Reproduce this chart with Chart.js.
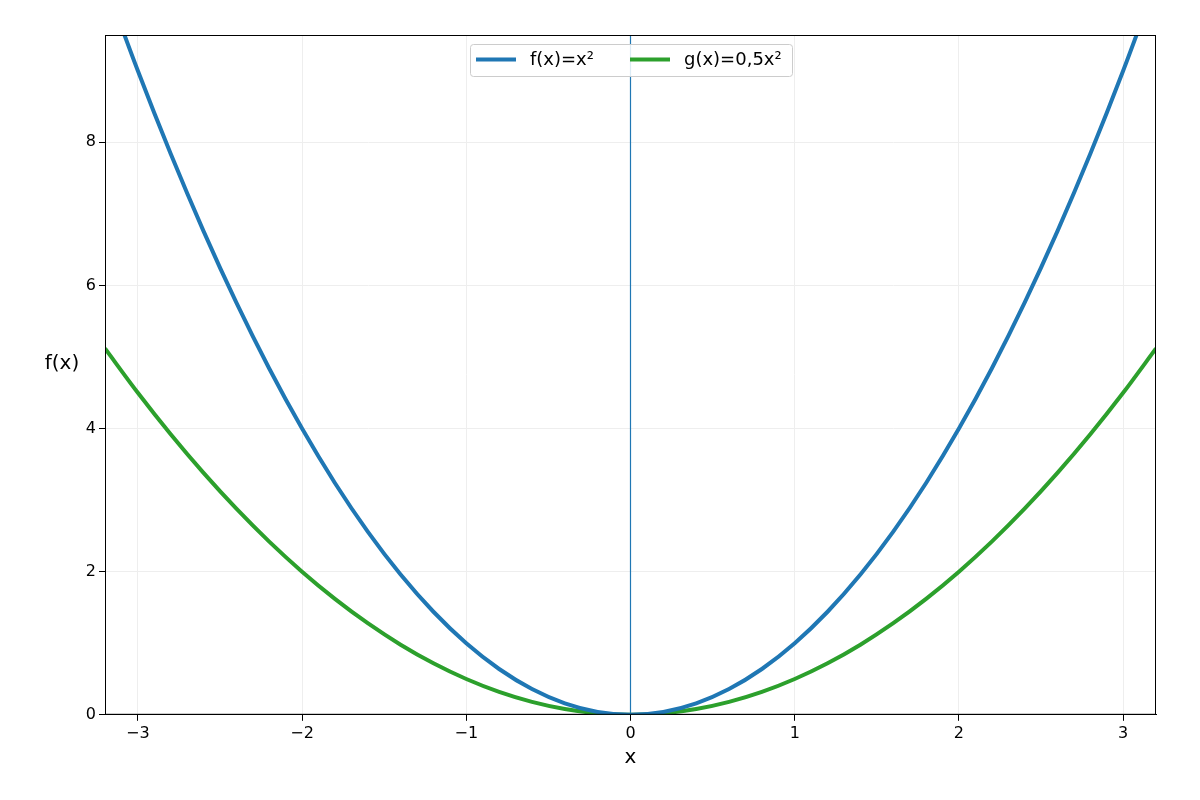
<!DOCTYPE html>
<html><head><meta charset="utf-8">
<script src="https://cdn.jsdelivr.net/npm/chart.js@4"></script>
<style>html,body{margin:0;background:#fff}#w{width:1200px;height:800px}</style>
</head><body><div id="w"><canvas id="c"></canvas></div>
<script>
const xValues=[-3.2,-3.0,-2.8,-2.6,-2.4,-2.2,-2.0,-1.8,-1.6,-1.4,-1.2,-1.0,-0.8,-0.6,-0.4,-0.2,0,0.2,0.4,0.6,0.8,1.0,1.2,1.4,1.6,1.8,2.0,2.2,2.4,2.6,2.8,3.0,3.2];
const fValues=[10.24,9.00,7.84,6.76,5.76,4.84,4.00,3.24,2.56,1.96,1.44,1.00,0.64,0.36,0.16,0.04,0,0.04,0.16,0.36,0.64,1.00,1.44,1.96,2.56,3.24,4.00,4.84,5.76,6.76,7.84,9.00,10.24];
const gValues=[5.12,4.50,3.92,3.38,2.88,2.42,2.00,1.62,1.28,0.98,0.72,0.50,0.32,0.18,0.08,0.02,0,0.02,0.08,0.18,0.32,0.50,0.72,0.98,1.28,1.62,2.00,2.42,2.88,3.38,3.92,4.50,5.12];
const seriesLabels=['f(x)=x²','g(x)=0,5x²'];
const seriesColors=['#1f77b4','#2ca02c'];
const xTicks=[-3,-2,-1,0,1,2,3];
const yTicks=[0,2,4,6,8];
const font='"DejaVu Sans", sans-serif';
const pts=(ys)=>xValues.map((x,i)=>({x,y:ys[i]}));
const extra={id:'extra',
 beforeDatasetsDraw(ch){const {ctx,chartArea:a,scales:{x}}=ch;const px=x.getPixelForValue(0);
  ctx.save();ctx.strokeStyle='#1f77b4';ctx.lineWidth=1.2;ctx.beginPath();ctx.moveTo(px,a.top);ctx.lineTo(px,a.bottom);ctx.stroke();ctx.restore();},
 afterDraw(ch){const {ctx,chartArea:a}=ch;ctx.save();
  ctx.strokeStyle='#000';ctx.lineWidth=1;ctx.strokeRect(a.left+0.5,a.top+0.5,a.right-a.left-1,a.bottom-a.top-1);
  ctx.fillStyle='#000';ctx.font='20px '+font;ctx.textAlign='center';ctx.textBaseline='middle';ctx.fillText('f(x)',62,364);
  const bx=470,by=44,bw=322,bh=32;
  ctx.fillStyle='rgba(255,255,255,0.85)';ctx.strokeStyle='#ccc';ctx.lineWidth=1;
  ctx.beginPath();ctx.roundRect(bx+0.5,by+0.5,bw,bh,3);ctx.fill();ctx.stroke();
  ctx.font='18px '+font;ctx.textAlign='left';
  const xs=[476,630];
  seriesLabels.forEach((l,i)=>{ctx.strokeStyle=seriesColors[i];ctx.lineWidth=4;ctx.beginPath();ctx.moveTo(xs[i],59.5);ctx.lineTo(xs[i]+40,59.5);ctx.stroke();
   ctx.fillStyle='#000';ctx.fillText(l,xs[i]+54,60);});
  ctx.restore();}};
new Chart(document.getElementById('c'),{type:'line',
 data:{datasets:[0,1].map(i=>({label:seriesLabels[i],data:pts(i?gValues:fValues),borderColor:seriesColors[i],borderWidth:4,pointRadius:0,tension:0.4,cubicInterpolationMode:'monotone',fill:false}))},
 options:{responsive:true,maintainAspectRatio:false,animation:false,layout:{padding:{top:35,right:44,left:0,bottom:26}},
  plugins:{legend:{display:false},tooltip:{enabled:false}},
  scales:{
   x:{type:'linear',min:-3.2,max:3.2,afterBuildTicks(s){s.ticks=xTicks.map(v=>({value:v}));},
    ticks:{color:'#000',font:{family:font,size:16},maxRotation:0,callback:v=>String(v).replace('-','−')},
    grid:{color:'#eee',tickColor:'#000',tickLength:6},border:{color:'#000'},
    title:{display:true,text:'x',color:'#000',font:{family:font,size:20},padding:{top:0}}},
   y:{min:0,max:9.5,afterBuildTicks(s){s.ticks=yTicks.map(v=>({value:v}));},afterFit(s){s.width=105;},
    ticks:{color:'#000',font:{family:font,size:16}},
    grid:{color:'#eee',tickColor:'#000',tickLength:6},border:{color:'#000'}}}},
 plugins:[extra]});
</script></body></html>
